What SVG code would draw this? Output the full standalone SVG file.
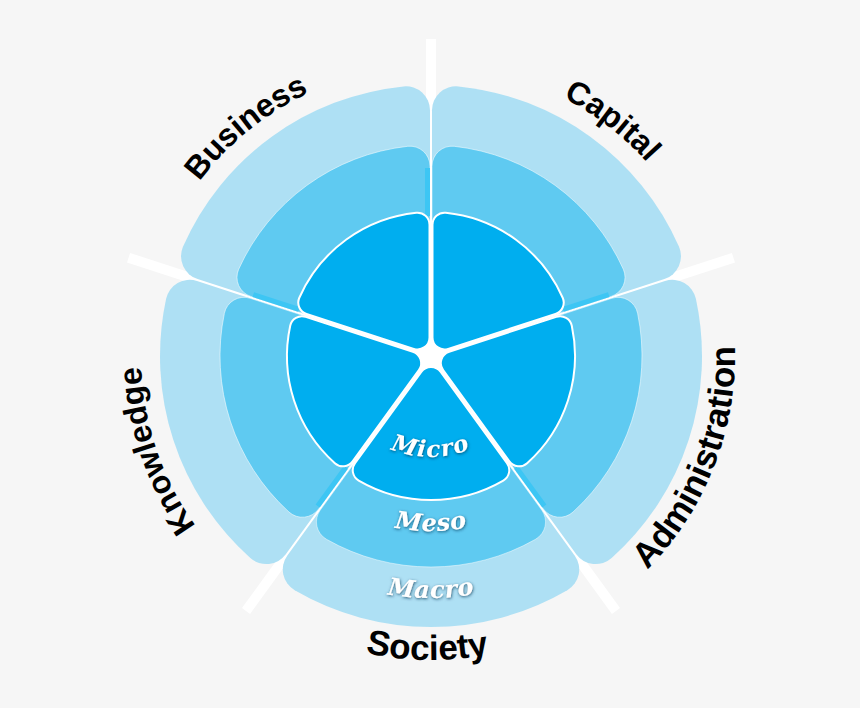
<svg xmlns="http://www.w3.org/2000/svg" width="860" height="708" viewBox="0 0 860 708">
<style>
.macro{fill:#aee0f4}
.meso{fill:#5fcaf1;stroke:#ffffff;stroke-opacity:.6;stroke-width:.8}
.micro{fill:#00aeef;stroke:#ffffff;stroke-width:2}
.strip{stroke:#3dc6f4;stroke-width:5;fill:none}
.div{stroke:#ffffff;stroke-width:10;fill:none}
.lbl{font-family:"Liberation Sans",Arial,sans-serif;font-weight:bold;font-size:32px;fill:#000}
.big{font-size:35px}
.lvl{font-family:"DejaVu Serif","Liberation Serif",serif;font-weight:bold;font-style:italic;fill:#ffffff;filter:url(#glow)}
</style>
<defs>
<filter id="glow" x="-20%" y="-50%" width="140%" height="200%">
<feDropShadow dx="0.5" dy="1" stdDeviation="1.5" flood-color="#003150" flood-opacity="0.8"/>
</filter>
<path id="pMacro" d="M-16.82 24.86 L16.82 24.86 L143.63 199.39 A24 24 0 0 1 136.28 234.23 A271 271 0 0 1 -136.28 234.23 A24 24 0 0 1 -143.63 199.39 Z"/>
<path id="pMeso" d="M-16.82 24.86 L16.82 24.86 L110.78 154.17 A20 20 0 0 1 104.51 183.29 A211 211 0 0 1 -104.51 183.29 A20 20 0 0 1 -110.78 154.17 Z"/>
<path id="pMicro" d="M9.71 15.91 L75.97 107.11 A12 12 0 0 1 72.28 124.55 A144 144 0 0 1 -72.28 124.55 A12 12 0 0 1 -75.97 107.11 L-9.71 15.91 A12 12 0 0 1 9.71 15.91 Z"/>
<path id="tBusiness" d="M149.61 285.84 A290 290 0 0 1 451.23 66.71"/>
<path id="tCapital" d="M410.77 66.71 A290 290 0 0 1 712.39 285.84"/>
<path id="tKnowledge" d="M277.32 601.93 A290 290 0 0 1 162.12 247.36"/>
<path id="tSociety" d="M235.59 588.88 A304 304 0 0 0 626.41 588.88"/>
<path id="tAdmin" d="M569.01 626.87 A304 304 0 0 0 701.87 217.99"/>
<path id="tMicro" d="M343.53 406.5 A101 101 0 0 0 518.47 406.5"/>
<path id="tMeso" d="M318.51 490.06 A175 175 0 0 0 543.49 490.06"/>
<path id="tMacro" d="M310 565.58 A242 242 0 0 0 552 565.58"/>
</defs>
<rect x="0" y="0" width="860" height="708" fill="#f6f6f6"/>
<g id="connectors">
<line class="div" x1="431" y1="356" x2="431" y2="39"/>
<line class="div" x1="431" y1="356" x2="733.44" y2="257.73"/>
<line class="div" x1="431" y1="356" x2="616" y2="611"/>
<line class="div" x1="431" y1="356" x2="246" y2="611"/>
<line class="div" x1="431" y1="356" x2="128.56" y2="257.73"/>
<circle cx="431" cy="356" r="14" fill="#ffffff"/>
</g>
<g id="society">
<g transform="translate(431 356)">
<use href="#pMacro" class="macro"/>
<use href="#pMeso" class="meso"/>
<use href="#pMicro" class="micro"/>
</g>
<text class="lbl big"><textPath href="#tSociety" startOffset="49.1%" text-anchor="middle">Society</textPath></text>
<text class="lvl" font-size="23" letter-spacing="1.5"><textPath href="#tMicro" startOffset="50%" text-anchor="middle">Micro</textPath></text>
<text class="lvl" font-size="24" letter-spacing="0.5"><textPath href="#tMeso" startOffset="50%" text-anchor="middle">Meso</textPath></text>
<text class="lvl" font-size="24" letter-spacing="0.5"><textPath href="#tMacro" startOffset="50%" text-anchor="middle">Macro</textPath></text>
</g>
<g id="knowledge">
<g transform="translate(431 356) rotate(72)">
<use href="#pMacro" class="macro"/>
<use href="#pMeso" class="meso"/>
<line class="strip" x1="79.46" y1="115.32" x2="107.68" y2="154.16"/>
<use href="#pMicro" class="micro"/>
</g>
<text class="lbl"><textPath href="#tKnowledge" startOffset="48.75%" text-anchor="middle">Knowledge</textPath></text>
</g>
<g id="business">
<g transform="translate(431 356) rotate(144)">
<use href="#pMacro" class="macro"/>
<use href="#pMeso" class="meso"/>
<line class="strip" x1="79.46" y1="115.32" x2="107.68" y2="154.16"/>
<line class="strip" x1="-79.46" y1="115.32" x2="-107.68" y2="154.16"/>
<use href="#pMicro" class="micro"/>
</g>
<text class="lbl"><textPath href="#tBusiness" startOffset="46.3%" text-anchor="middle">Business</textPath></text>
</g>
<g id="capital">
<g transform="translate(431 356) rotate(216)">
<use href="#pMacro" class="macro"/>
<use href="#pMeso" class="meso"/>
<line class="strip" x1="-79.46" y1="115.32" x2="-107.68" y2="154.16"/>
<use href="#pMicro" class="micro"/>
</g>
<text class="lbl"><textPath href="#tCapital" startOffset="52%" text-anchor="middle">Capital</textPath></text>
</g>
<g id="administration">
<g transform="translate(431 356) rotate(288)">
<use href="#pMacro" class="macro"/>
<use href="#pMeso" class="meso"/>
<line class="strip" x1="-79.46" y1="115.32" x2="-107.68" y2="154.16"/>
<use href="#pMicro" class="micro"/>
</g>
<text class="lbl big"><textPath href="#tAdmin" startOffset="46.2%" text-anchor="middle">Administration</textPath></text>
</g>
</svg>
